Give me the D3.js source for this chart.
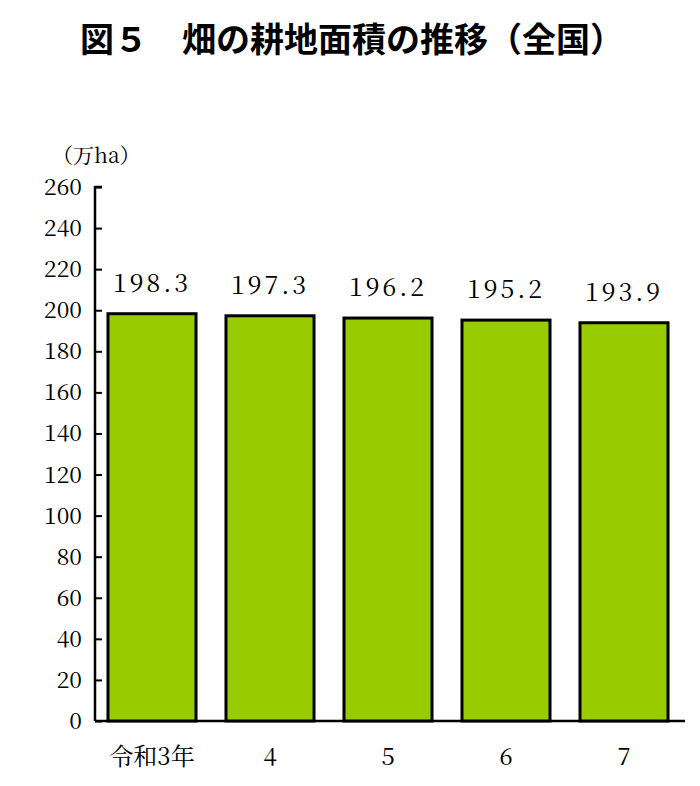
<!DOCTYPE html>
<html><head><meta charset="utf-8">
<script src="https://cdn.jsdelivr.net/npm/d3@7"></script>
<style>body{margin:0;background:#fff}</style>
</head><body>
<svg id="canvas" width="700" height="786"></svg>
<script>
let categories = ['令和3年', '4', '5', '6', '7']
let values = [198.3, 197.3, 196.2, 195.2, 193.9]
let valueLabels = ['198.3', '197.3', '196.2', '195.2', '193.9']
let yTicks = d3.range(0, 261, 20)

let svg = d3.select('#canvas')
let serif = '"Noto Serif CJK JP", "Liberation Serif", "DejaVu Serif", serif'

svg.append('text')
    .attr('x', 352).attr('y', 52)
    .attr('text-anchor', 'middle')
    .attr('font-family', '"Noto Sans CJK JP"')
    .attr('font-weight', 'bold')
    .attr('font-size', 34)
    .text('図５　畑の耕地面積の推移（全国）')

let x = d3.scaleBand().domain(categories).range([95, 681]).paddingInner(0.254).paddingOuter(0.11)
let y = d3.scaleLinear().domain([0, 260]).range([721, 187])

// y axis, ticks point inward
let yAxis = svg.append('g')
    .attr('transform', 'translate(95,0)')
    .call(d3.axisRight(y).tickValues(yTicks).tickSize(7).tickFormat(''))
yAxis.select('.domain').attr('stroke', '#000').attr('stroke-width', 2.5)
    .attr('d', 'M7,187H0V721')
yAxis.selectAll('line').attr('stroke-width', 2)

svg.selectAll('.ylab')
    .data(yTicks).enter().append('text')
    .attr('x', 82).attr('y', d => y(d) + 8)
    .attr('text-anchor', 'end')
    .attr('font-family', serif).attr('font-size', 23)
    .text(d => d)

svg.append('text')
    .attr('x', 52).attr('y', 163)
    .attr('font-family', serif).attr('font-size', 21)
    .text('（万ha）')

svg.append('line')
    .attr('x1', 95).attr('x2', 685).attr('y1', 721).attr('y2', 721)
    .attr('stroke', '#000').attr('stroke-width', 2.5)

svg.selectAll('rect')
    .data(values).enter().append('rect')
    .attr('x', (d, i) => x(categories[i]))
    .attr('y', d => y(d))
    .attr('width', x.bandwidth())
    .attr('height', d => y(0) - y(d))
    .attr('fill', '#99cc00')
    .attr('stroke', '#000').attr('stroke-width', 3)

svg.selectAll('.vlab')
    .data(values).enter().append('text')
    .attr('x', (d, i) => x(categories[i]) + x.bandwidth() / 2)
    .attr('y', d => y(d) - 22)
    .attr('text-anchor', 'middle')
    .attr('font-family', serif).attr('font-size', 25)
    .attr('letter-spacing', 3)
    .text((d, i) => valueLabels[i])

svg.selectAll('.xlab')
    .data(categories).enter().append('text')
    .attr('x', d => x(d) + x.bandwidth() / 2)
    .attr('y', 765)
    .attr('text-anchor', 'middle')
    .attr('font-family', serif).attr('font-size', 24)
    .text(d => d)
</script>
</body></html>
